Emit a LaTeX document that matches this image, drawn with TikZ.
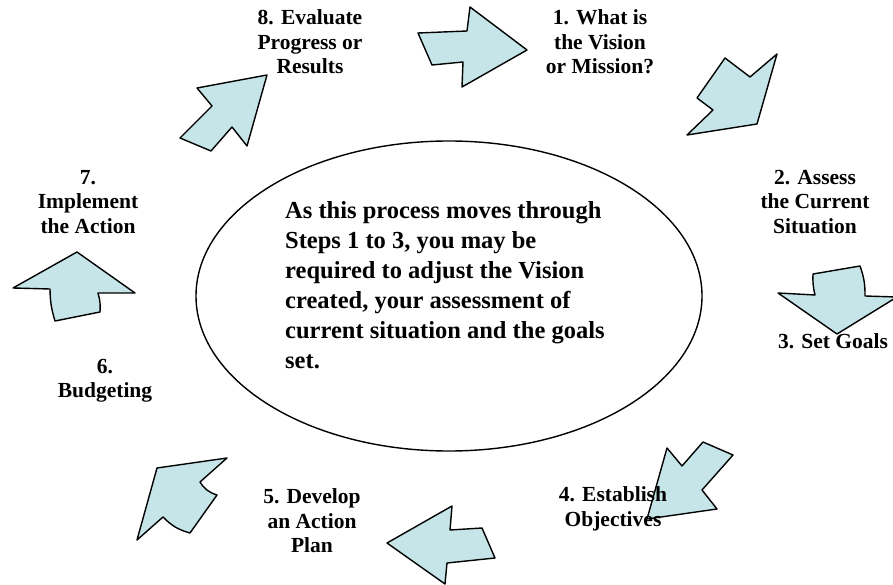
\documentclass[tikz,border=0pt]{standalone}
\usepackage{fontspec}
\setmainfont{Liberation Serif}
\begin{document}
\begin{tikzpicture}[x=1pt,y=-1pt,
  blockarrow/.style={fill={rgb,255:red,197;green,229;blue,232}, draw=black, line width=1.4pt, line join=round},
  steplabel/.style={font=\fontsize{21.5}{24.5}\selectfont\bfseries, align=center, inner sep=0pt},
  note/.style={font=\fontsize{24.5}{30}\selectfont\bfseries, align=left, inner sep=0pt, anchor=north west},
]
\useasboundingbox (0,0) rectangle (893,585);
\clip (0,0) rectangle (893,585);

% central ellipse with the note
\draw[line width=1.4pt] (449,296) ellipse [x radius=253, y radius=155];
\node[note] (remark) at (285,201) {As this process moves through\\
Steps 1 to 3, you may be\\
required to adjust the Vision\\
created, your assessment of\\
current situation and the goals\\
set.};

% block arrows running clockwise between the steps
\draw[blockarrow] (418,33) -- (467,31) -- (470,7) -- (527,50) -- (462,87) -- (463,62) -- (432,65) -- cycle;
\draw[blockarrow] (725,58) -- (750,77) -- (777,54) -- (757,124) -- (687,135) -- (713,110) -- (697,98) -- cycle;
\draw[blockarrow] (813,274) -- (860,266) to[bend left=10] (865,296) -- (897,297) -- (837,334) -- (778,293) -- (815,295) to[bend left=8] cycle;
\draw[blockarrow] (667,448) -- (682,466) -- (703,442) -- (733,455) -- (702,490) -- (717,509) -- (647,519) -- cycle;
\draw[blockarrow] (452,506) -- (450,530) -- (482,528) -- (495,558) -- (447,563) -- (445,584) -- (387,543) -- cycle;
\draw[blockarrow] (157,468) -- (227,458) -- (200,482) to[bend right=20] (217,495) -- (190,533) to[bend left=15] (163,517) -- (137,540) -- cycle;
\draw[blockarrow] (77,252) -- (135,293) -- (98,293) to[bend left=10] (100,312) -- (55,321) to[bend left=8] (50,289) -- (13,288) -- cycle;
\draw[blockarrow] (197,88) -- (267,75) -- (247,146) -- (232,127) -- (211,151) -- (180,138) -- (212,106) -- cycle;

% step labels
\node[steplabel] (s1) at (600,42) {1. What is\\the Vision\\or Mission?};
\node[steplabel] (s2) at (815,202) {2. Assess\\the Current\\Situation};
\node[steplabel] (s3) at (833,341) {3. Set Goals};
\node[steplabel] (s4) at (613,509) {4. Establish\\Objectives};
\node[steplabel] (s5) at (312,521) {5. Develop\\an Action\\Plan};
\node[steplabel] (s6) at (105,381) {6.\\Budgeting};
\node[steplabel] (s7) at (88,202) {7.\\Implement\\the Action};
\node[steplabel] (s8) at (310,42) {8. Evaluate\\Progress or\\Results};
\end{tikzpicture}
\end{document}
